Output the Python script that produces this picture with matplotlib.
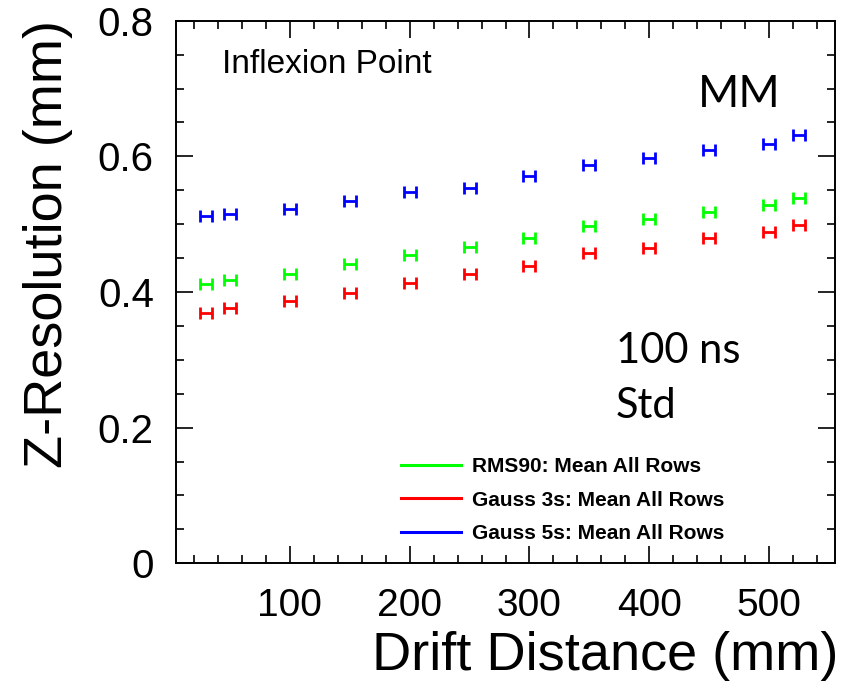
import numpy as np
import matplotlib
matplotlib.use("Agg")
import matplotlib.pyplot as plt
from matplotlib.lines import Line2D
from matplotlib.ticker import MultipleLocator

# drift distance (mm) and z-resolution (mm) for the three estimators
drift = [30, 50, 100, 150, 200, 250, 300, 350, 400, 450, 500, 525]
rms90 = [0.412, 0.417, 0.427, 0.441, 0.454, 0.466, 0.480, 0.497, 0.508, 0.518, 0.529, 0.539]
gauss3 = [0.369, 0.376, 0.386, 0.399, 0.413, 0.426, 0.438, 0.458, 0.465, 0.480, 0.489, 0.499]
gauss5 = [0.512, 0.515, 0.523, 0.534, 0.547, 0.554, 0.571, 0.587, 0.597, 0.609, 0.618, 0.631]
xerr = 5.0
labels = ["RMS90: Mean All Rows", "Gauss 3s: Mean All Rows", "Gauss 5s: Mean All Rows"]
colors = ["#00ff00", "#ff0000", "#0000ff"]

plt.rcParams["font.family"] = ["Liberation Sans", "DejaVu Sans"]

W, H = 844, 685
fig = plt.figure(figsize=(W / 100, H / 100), dpi=100)
ax = fig.add_axes([176 / W, 1 - 563.3 / H, (835 - 176) / W, (563.3 - 20.7) / H])

for ys, c in zip([rms90, gauss3, gauss5], colors):
    ax.errorbar(drift, ys, xerr=xerr, fmt="none", ecolor=c, elinewidth=2.0,
                capsize=4.2, capthick=2.0)

ax.set_xlim(5, 555)
ax.set_ylim(0, 0.8)
ax.xaxis.set_minor_locator(MultipleLocator(20))
ax.yaxis.set_minor_locator(MultipleLocator(0.05))
ax.set_xticks([100, 200, 300, 400, 500])
ax.set_yticks([0, 0.2, 0.4, 0.6, 0.8])
ax.set_yticklabels(["0", "0.2", "0.4", "0.6", "0.8"])

ax.tick_params(which="both", direction="in", top=True, right=True, width=1.2)
ax.tick_params(which="major", length=12)
ax.tick_params(which="minor", length=6)
ax.tick_params(axis="y", labelsize=29, pad=16)
ax.tick_params(axis="x", labelsize=28, pad=18)
for s in ax.spines.values():
    s.set_linewidth(1.4)

fig.text(48 / W, 1 - 20 / H, "Z-Resolution (mm)", rotation=90, ha="center", va="top", fontsize=39)
fig.text(838 / W, 1 - 670 / H, "Drift Distance (mm)", ha="right", va="baseline", fontsize=39)

handles = [Line2D([], [], color=c, lw=2.2) for c in colors]
ax.legend(handles, labels, loc="center left",
          bbox_to_anchor=((382 - 176) / 659, 1 - (500 - 20.7) / 542.6),
          frameon=False, prop={"weight": "bold", "size": 15}, handlelength=2.9,
          handletextpad=0.5, labelspacing=0.7)

fig.text(222 / W, 1 - 73 / H, "Inflexion Point", ha="left", va="baseline", fontsize=24)
fig.text(698 / W, 1 - 107 / H, "MM", ha="left", va="baseline", fontsize=32, family="Lato")
fig.text(616 / W, 1 - 363 / H, "100 ns", ha="left", va="baseline", fontsize=30, family="Lato")
fig.text(616 / W, 1 - 418 / H, "Std", ha="left", va="baseline", fontsize=30, family="Lato")

fig.savefig("out.png", dpi=100, facecolor="white")
